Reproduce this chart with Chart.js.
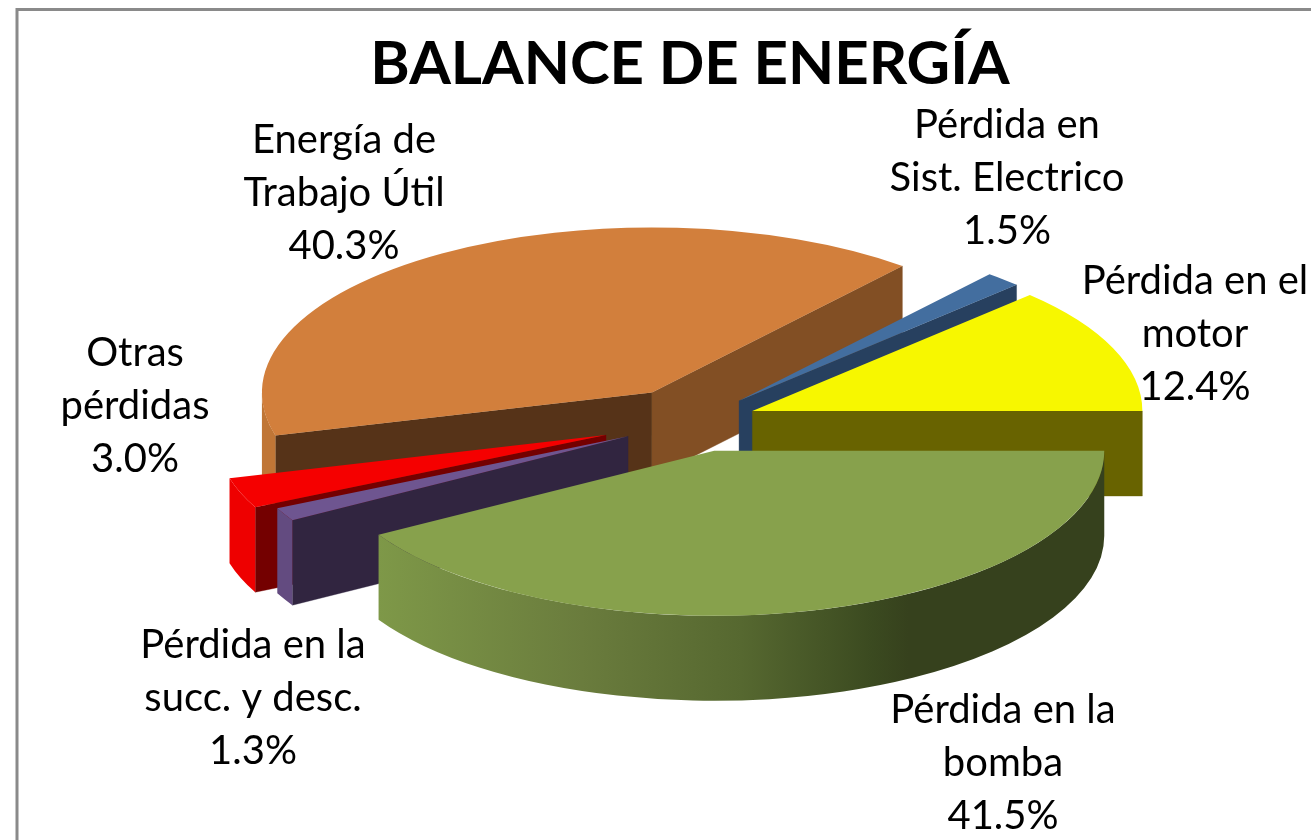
<!DOCTYPE html>
<html><head><meta charset="utf-8">
<style>html,body{margin:0;padding:0;background:#fff;overflow:hidden;width:1311px;height:840px}canvas{display:block}</style>
<script src="https://cdn.jsdelivr.net/npm/chart.js@4"></script>
</head><body><canvas id="c" width="1380" height="840" style="width:1380px;height:840px"></canvas>
<script>
const categories = [
  ['Pérdida en la','bomba'],
  ['Pérdida en la','succ. y desc.'],
  ['Otras','pérdidas'],
  ['Energía de','Trabajo Útil'],
  ['Pérdida en','Sist. Electrico'],
  ['Pérdida en el','motor']
];
const shares = [41.5, 1.3, 3.0, 40.3, 1.5, 12.4];
const topColors = ['#87A14C','#6E5590','#F50000','#D27F3C','#436E9F','#F7F700'];
const rimColors = [null,'#634B80','#EE0000','#C07636','#27405F','#686300'];
const startFaceColors = ['#36411D','#312540','#740000','#563318','#27405F','#686300'];
const endFaceColors = ['#36411D','#312540','#740000','#824F24','#27405F','#686300'];
const explode = [73, 76, 95, 80, 65, 62];
const labelCenters = [[1003,776],[253,711],[135,419],[344,206],[1007,191],[1195,347]];
const wallOrder = [3,4,5,2,1,0];

const CX = 695, CY = 421, SQUASH = 165/390, DEPTH = 85/SQUASH, LINE = 53;
const PI = Math.PI;

const pie3d = {
  id:'pie3d',
  beforeDraw(chart){
    const c = chart.ctx;
    c.save();
    c.fillStyle='#fff'; c.fillRect(0,0,chart.width,chart.height);
    c.strokeStyle='#8A8A8A'; c.lineWidth=3;
    c.strokeRect(17,9.5,1500,1000);
    c.restore();
  },
  beforeDatasetsDraw(chart){
    const c = chart.ctx;
    const arcs = chart.getDatasetMeta(0).data;
    const place = (a,i)=>{
      const m=(a.startAngle+a.endAngle)/2;
      c.translate(CX,CY); c.scale(1,SQUASH); c.translate(-a.x,-a.y);
      c.translate(Math.cos(m)*explode[i], Math.sin(m)*explode[i]);
    };
    wallOrder.forEach(i=>{
      const a = arcs[i];
      const s = a.startAngle, e = a.endAngle, r = a.outerRadius;
      c.save();
      place(a,i);
      const x=a.x,y=a.y;
      const face=(ang,col)=>{
        c.fillStyle=col; c.strokeStyle=col; c.lineWidth=0.5;
        c.beginPath(); c.moveTo(x,y);
        c.lineTo(x+Math.cos(ang)*r,y+Math.sin(ang)*r);
        c.lineTo(x+Math.cos(ang)*r,y+Math.sin(ang)*r+DEPTH);
        c.lineTo(x,y+DEPTH); c.closePath(); c.fill(); c.stroke();
      };
      if(Math.cos(s)<0) face(s,startFaceColors[i]);
      if(Math.cos(e)>0) face(e,endFaceColors[i]);
      const from=s, to=Math.min(e,PI);
      if(from<PI && to>from){
        let fill=rimColors[i];
        if(i===0){
          const g=c.createLinearGradient(x+Math.cos(e)*r,0,x+r,0);
          g.addColorStop(0,'#7E9848');
          g.addColorStop(0.28,'#6A7C3D');
          g.addColorStop(0.5,'#566830');
          g.addColorStop(0.68,'#3B4A20');
          g.addColorStop(0.73,'#36411D');
          g.addColorStop(1,'#36411D');
          fill=g;
        }
        c.fillStyle=fill;
        c.beginPath();
        c.arc(x,y,r,from,to);
        c.lineTo(x+Math.cos(to)*r,y+Math.sin(to)*r+DEPTH);
        c.arc(x,y+DEPTH,r,to,from,true);
        c.closePath(); c.fill();
      }
      c.restore();
    });
    wallOrder.forEach(i=>{
      const a=arcs[i];
      c.save();
      place(a,i);
      a.draw(c);
      c.restore();
    });
    return false;
  },
  afterDraw(chart){
    const c=chart.ctx;
    c.save();
    c.fillStyle='#000'; c.font='40px Lato'; c.textAlign='center'; c.textBaseline='alphabetic';
    categories.forEach((lines,i)=>{
      const [x,mid]=labelCenters[i];
      c.fillText(lines[0],x,mid-LINE);
      c.fillText(lines[1],x,mid);
      c.fillText(shares[i].toFixed(1)+'%',x,mid+LINE);
    });
    c.restore();
  }
};

new Chart(document.getElementById('c'),{
  type:'pie',
  data:{labels:categories.map(l=>l.join(' ')),datasets:[{data:shares,backgroundColor:topColors,borderWidth:0}]},
  options:{
    responsive:false,animation:false,rotation:90,radius:390,
    layout:{padding:0},
    plugins:{
      legend:{display:false},tooltip:{enabled:false},
      title:{display:true,text:'BALANCE DE ENERGÍA',color:'#000',
        font:{family:'Lato',size:60,weight:'bold'},padding:{top:29,bottom:0}}
    }
  },
  plugins:[pie3d]
});
</script></body></html>
